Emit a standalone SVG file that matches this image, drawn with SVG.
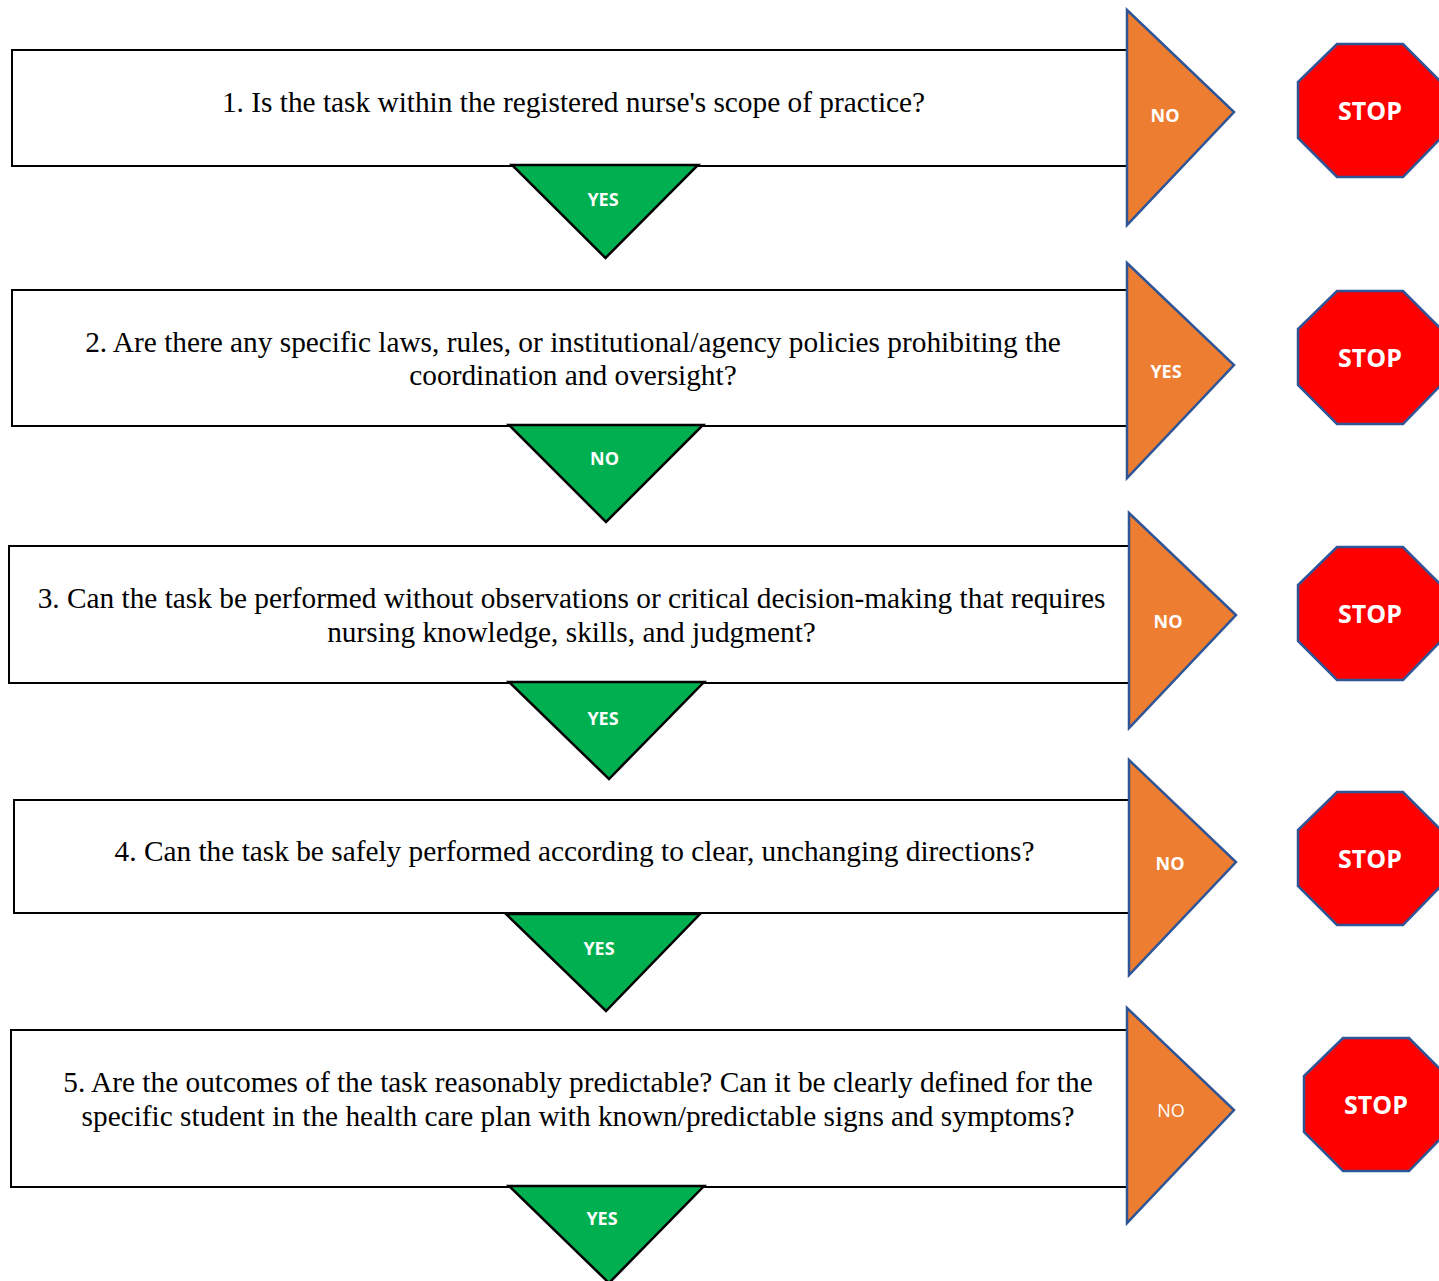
<svg xmlns="http://www.w3.org/2000/svg" width="1439" height="1281" viewBox="0 0 1439 1281">
<style>
.box{fill:#fff;stroke:#000;stroke-width:2}
.q{font-family:"Liberation Serif","Times New Roman",serif;font-size:29.33px;fill:#000;text-anchor:middle}
.tri-o{fill:#ED7D31;stroke:#2F5597;stroke-width:2.5}
.tri-g{fill:#00B050;stroke:#000;stroke-width:2.5}
.oct{fill:#FF0000;stroke:#2F5597;stroke-width:2.5}
.l{font-family:"Open Sans","Liberation Sans",sans-serif;font-size:18px;font-weight:700;fill:#fff;text-anchor:middle}
.s{font-family:"Open Sans","Liberation Sans",sans-serif;font-size:25px;font-weight:700;fill:#fff;text-anchor:middle}
</style>
<rect width="1439" height="1281" fill="#fff"/>
<g id="connectors"></g>
<g id="q1"><rect class="box" x="12" y="50" width="1116" height="116"/><text class="q" x="573.5" y="112">1. Is the task within the registered nurse's scope of practice?</text></g>
<g id="q2"><rect class="box" x="12" y="290" width="1116" height="136"/><text class="q" x="573" y="352">2. Are there any specific laws, rules, or institutional/agency policies prohibiting the</text><text class="q" x="573" y="385">coordination and oversight?</text></g>
<g id="q3"><rect class="box" x="9" y="546" width="1121" height="137"/><text class="q" x="571.5" y="608">3. Can the task be performed without observations or critical decision-making that requires</text><text class="q" x="571.5" y="642">nursing knowledge, skills, and judgment?</text></g>
<g id="q4"><rect class="box" x="14" y="800" width="1116" height="113"/><text class="q" x="574.5" y="861">4. Can the task be safely performed according to clear, unchanging directions?</text></g>
<g id="q5"><rect class="box" x="11" y="1030" width="1117" height="157"/><text class="q" x="578" y="1092">5. Are the outcomes of the task reasonably predictable? Can it be clearly defined for the</text><text class="q" x="578" y="1126">specific student in the health care plan with known/predictable signs and symptoms?</text></g>
<g id="y1"><polygon class="tri-g" points="512,165 698,165 605.5,258"/><text class="l" x="603" y="206">YES</text></g>
<g id="y2"><polygon class="tri-g" points="509,425 703,425 606,522"/><text class="l" x="604.5" y="465">NO</text></g>
<g id="y3"><polygon class="tri-g" points="509,682 704,682 609,779"/><text class="l" x="603" y="725">YES</text></g>
<g id="y4"><polygon class="tri-g" points="506,914 700,914 606,1011"/><text class="l" x="599" y="955">YES</text></g>
<g id="y5"><polygon class="tri-g" points="509,1186 704,1186 609,1283"/><text class="l" x="602" y="1225">YES</text></g>
<g id="n1"><polygon class="tri-o" points="1127,10 1234,112 1127,225"/><text class="l" x="1165" y="122">NO</text></g>
<g id="n2"><polygon class="tri-o" points="1127,263 1234,365 1127,478"/><text class="l" x="1166" y="378">YES</text></g>
<g id="n3"><polygon class="tri-o" points="1129,513 1236,615 1129,728"/><text class="l" x="1168" y="628">NO</text></g>
<g id="n4"><polygon class="tri-o" points="1129,760 1236,862 1129,975"/><text class="l" x="1170" y="870">NO</text></g>
<g id="n5"><polygon class="tri-o" points="1127,1008 1234,1110 1127,1223"/><text class="l" x="1171" y="1117" style="font-weight:400">NO</text></g>
<g id="s1"><polygon class="oct" points="1337,44 1403,44 1441,82 1441,138 1403,177 1337,177 1298,138 1298,82"/><text class="s" x="1370" y="120">STOP</text></g>
<g id="s2"><polygon class="oct" points="1337,291 1403,291 1441,329 1441,385 1403,424 1337,424 1298,385 1298,329"/><text class="s" x="1370" y="367">STOP</text></g>
<g id="s3"><polygon class="oct" points="1337,547 1403,547 1441,585 1441,641 1403,680 1337,680 1298,641 1298,585"/><text class="s" x="1370" y="623">STOP</text></g>
<g id="s4"><polygon class="oct" points="1337,792 1403,792 1441,830 1441,886 1403,925 1337,925 1298,886 1298,830"/><text class="s" x="1370" y="868">STOP</text></g>
<g id="s5"><polygon class="oct" points="1343,1038 1409,1038 1447,1076 1447,1132 1409,1171 1343,1171 1304,1132 1304,1076"/><text class="s" x="1376" y="1114">STOP</text></g>
</svg>
